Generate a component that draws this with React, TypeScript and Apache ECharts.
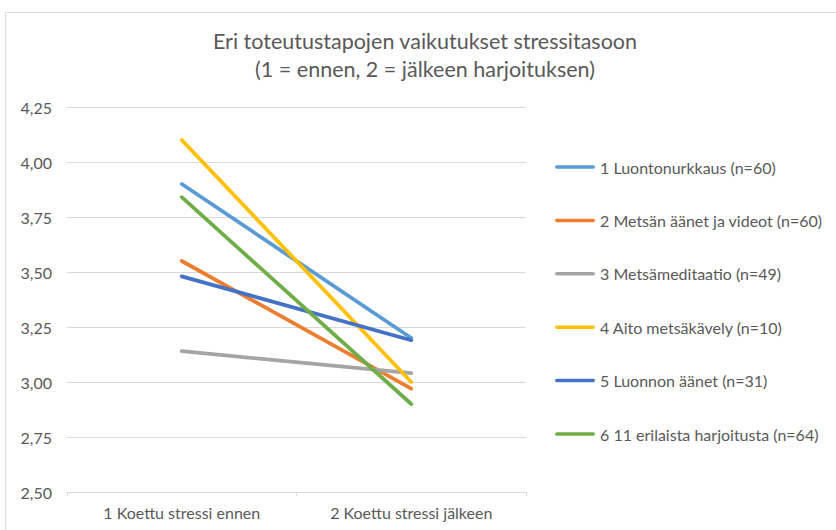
import React, { useEffect, useRef } from "react";
import * as echarts from "echarts";

const categories = ["1 Koettu stressi ennen", "2 Koettu stressi jälkeen"];
const seriesNames = [
  "1 Luontonurkkaus (n=60)",
  "2 Metsän äänet ja videot (n=60)",
  "3 Metsämeditaatio (n=49)",
  "4 Aito metsäkävely (n=10)",
  "5 Luonnon äänet (n=31)",
  "6 11 erilaista harjoitusta (n=64)",
];
const s1 = [3.9, 3.2];
const s2 = [3.55, 2.97];
const s3 = [3.14, 3.04];
const s4 = [4.1, 3.0];
const s5 = [3.48, 3.19];
const s6 = [3.84, 2.9];
const seriesValues = [s1, s2, s3, s4, s5, s6];
const colors = ["#5B9BD5", "#ED7D31", "#A5A5A5", "#FFC000", "#4472C4", "#70AD47"];

const FONT = "Lato";

export default function App() {
  const ref = useRef<HTMLDivElement>(null);
  useEffect(() => {
    if (!ref.current) return;
    const chart = echarts.init(ref.current, undefined, { renderer: "svg" });
    chart.setOption({
      animation: false,
      backgroundColor: "#ffffff",
      textStyle: { fontFamily: FONT },
      title: {
        text: "Eri toteutustapojen vaikutukset stressitasoon\n(1 = ennen, 2 = jälkeen harjoituksen)",
        left: 420,
        top: 22,
        textAlign: "center",
        textStyle: {
          fontFamily: FONT,
          fontSize: 21.5,
          fontWeight: "normal",
          color: "#595959",
          lineHeight: 28,
        },
      },
      graphic: [
        {
          type: "rect",
          shape: { x: 5.5, y: 12.5, width: 1000, height: 1000 },
          style: { fill: "none", stroke: "#d9d9d9", lineWidth: 1 },
          silent: true,
        },
      ],
      legend: {
        orient: "vertical",
        left: 550,
        top: 154,
        itemWidth: 40,
        itemHeight: 14,
        itemGap: 37.4,
        icon: "path://M1.75,5.25 L38.25,5.25 A1.75,1.75 0 0 1 38.25,8.75 L1.75,8.75 A1.75,1.75 0 0 1 1.75,5.25 Z M0,0 L0.01,0 M0,14 L0.01,14",
        textStyle: { fontFamily: FONT, fontSize: 16, color: "#595959", lineHeight: 14 },
        data: seriesNames,
      },
      grid: { left: 67, right: 310, top: 107, bottom: 38, containLabel: false },
      xAxis: {
        type: "category",
        data: categories,
        boundaryGap: true,
        axisLine: { lineStyle: { color: "#d9d9d9", width: 1 } },
        axisTick: { show: true, length: 4, lineStyle: { color: "#d9d9d9" } },
        axisLabel: { fontFamily: FONT, fontSize: 16, color: "#595959", margin: 12 },
      },
      yAxis: {
        type: "value",
        min: 2.5,
        max: 4.25,
        interval: 0.25,
        axisLine: { show: false },
        axisTick: { show: false },
        splitLine: { lineStyle: { color: "#d9d9d9", width: 1 } },
        axisLabel: {
          fontFamily: FONT,
          fontSize: 16,
          color: "#595959",
          margin: 15,
          formatter: (v: number) => v.toFixed(2).replace(".", ","),
        },
      },
      series: seriesValues.map((vals, i) => ({
        name: seriesNames[i],
        type: "line",
        data: vals,
        symbol: "none",
        showSymbol: false,
        itemStyle: { color: colors[i] },
        lineStyle: { color: colors[i], width: 3.75, cap: "round" },
      })),
    });
    return () => chart.dispose();
  }, []);
  return (
    <div
      ref={ref}
      style={{ position: "fixed", left: 0, top: 0, width: 836, height: 530 }}
    />
  );
}
